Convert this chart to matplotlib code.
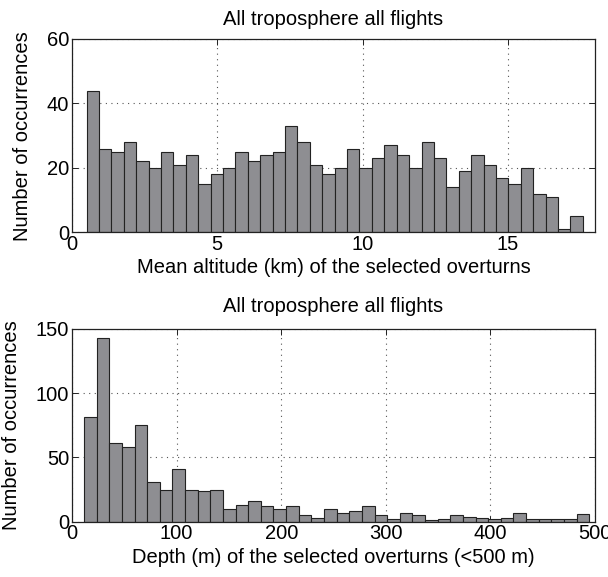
import numpy as np
import matplotlib
matplotlib.use("Agg")
import matplotlib.pyplot as plt

plt.rcParams['font.family'] = ['Liberation Sans', 'DejaVu Sans']

# Top histogram: mean altitude (km)
alt_counts = [44, 26, 25, 28, 22, 20, 25, 21, 24, 15, 18, 20, 25, 22, 24, 25, 33, 28, 21, 18,
              20, 26, 20, 23, 27, 24, 20, 28, 23, 14, 19, 24, 21, 17, 15, 20, 12, 11, 1, 5]
alt_first_edge = 0.5
alt_last_edge = 17.58

# Bottom histogram: depth (m)
depth_counts = [81, 143, 61, 58, 75, 31, 25, 41, 25, 24, 25, 10, 13, 16, 12, 10, 12, 5, 3, 10,
                7, 8, 12, 5, 2, 7, 5, 1, 2, 5, 4, 3, 2, 3, 7, 2, 2, 2, 2, 6]
depth_first_edge = 11.5
depth_last_edge = 494.5

title = "All troposphere all flights"
ylabel = "Number of occurrences"
xlabel_top = "Mean altitude (km) of the selected overturns"
xlabel_bot = "Depth (m) of the selected overturns (<500 m)"

bar_color = '#8e8e92'
edge_color = '#222222'
FS = 14.5

fig = plt.figure(figsize=(6.08, 5.77), dpi=100)
W, H = 608, 577
ax1 = fig.add_axes([72 / W, 1 - 232.3 / H, (595 - 72) / W, (232.3 - 39) / H])
ax2 = fig.add_axes([72 / W, 1 - 521.7 / H, (595 - 72) / W, (521.7 - 328.7) / H])


def draw(ax, counts, e0, e1, xlim, ylim, xticks, yticks, xlabel, tpad):
    edges = np.linspace(e0, e1, len(counts) + 1)
    ax.bar(edges[:-1], counts, width=np.diff(edges), align='edge',
           color=bar_color, edgecolor=edge_color, linewidth=0.8, zorder=2)
    ax.set_xlim(*xlim)
    ax.set_ylim(*ylim)
    ax.set_xticks(xticks)
    ax.set_yticks(yticks)
    ax.grid(True, linestyle=(0, (1, 4)), color='#555555', linewidth=0.8, zorder=1)
    ax.set_axisbelow(True)
    ax.tick_params(direction='in', top=True, right=True, labelsize=FS,
                   length=4, width=0.7, color='#222222', pad=2)
    for s in ax.spines.values():
        s.set_linewidth(0.9)
        s.set_color('#222222')
    ax.set_title(title, fontsize=FS, pad=tpad)
    ax.set_xlabel(xlabel, fontsize=FS, labelpad=3)
    ax.set_ylabel(ylabel, fontsize=FS, labelpad=11)


draw(ax1, alt_counts, alt_first_edge, alt_last_edge, (0, 18), (0, 60),
     [0, 5, 10, 15], [0, 20, 40, 60], xlabel_top, 10)
draw(ax2, depth_counts, depth_first_edge, depth_last_edge, (0, 500), (0, 150),
     [0, 100, 200, 300, 400, 500], [0, 50, 100, 150], xlabel_bot, 12)

fig.savefig("out.png", dpi=100)
